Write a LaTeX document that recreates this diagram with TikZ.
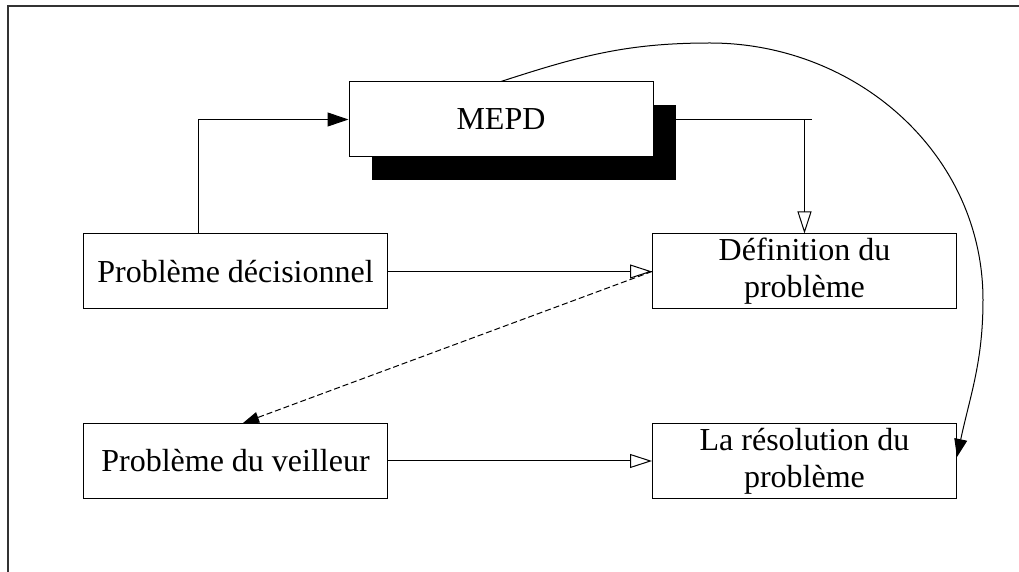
\documentclass[tikz,border=0pt]{standalone}
\usepackage{fontspec}
\setmainfont{Liberation Serif}
\usetikzlibrary{arrows.meta,calc}
\begin{document}
\begin{tikzpicture}[x=0.5pt,y=-0.5pt,line width=0.5pt,
  box/.style={draw=black,fill=white,minimum width=152pt,minimum height=37.5pt,inner sep=0pt,align=center,font=\fontsize{16}{18.5}\selectfont},
  openarr/.style={-{Triangle[open,length=11pt,width=7pt]}},
  fillarr/.style={-{Triangle[length=10.5pt,width=7pt]}},
  dasharr/.style={dashed,dash pattern=on 3pt off 1.5pt,-{Triangle[length=8pt,width=5.5pt]}},
  curvearr/.style={-{Triangle[length=9pt,width=6.5pt]}}]
\useasboundingbox (0,0) rectangle (1019,572);
% frame
\draw[line width=0.7pt,black!80] (8,572) -- (8,6) -- (1019,6);
% shadow of MEPD
\fill[black] (372,105) rectangle (676,180);
\node[box] (mepd) at (501,119.5) {MEPD};
\node[box] (pd) at (235.5,271.5) {Problème décisionnel};
\node[box] (def) at (804.5,271.5) {Définition du\\problème};
\node[box] (pv) at (235.5,461) {Problème du veilleur};
\node[box] (res) at (804.5,461) {La résolution du\\problème};
% connectors
\coordinate (c1) at (198,120);
\draw[fillarr] (pd.north -| c1) |- (mepd.west);
\coordinate (sr) at (676,120);
\coordinate (se) at (812,120);
\draw (sr) -- (se);
\draw[openarr] (def.north |- se) -- (def.north);
\draw[openarr] (pd.east) -- (def.west);
\draw[openarr] (pv.east) -- (res.west);
\coordinate (pvt) at (243,423);
\draw[dasharr] (def.west) -- (pvt);
\coordinate (top) at (710,43);
\coordinate (rgt) at (983,300);
\coordinate (rend) at (957,457);
\draw[curvearr] (mepd.north) to[out=18,in=180] (top) to[out=0,in=90] (rgt) to[out=-90,in=78] (rend);
\end{tikzpicture}
\end{document}
